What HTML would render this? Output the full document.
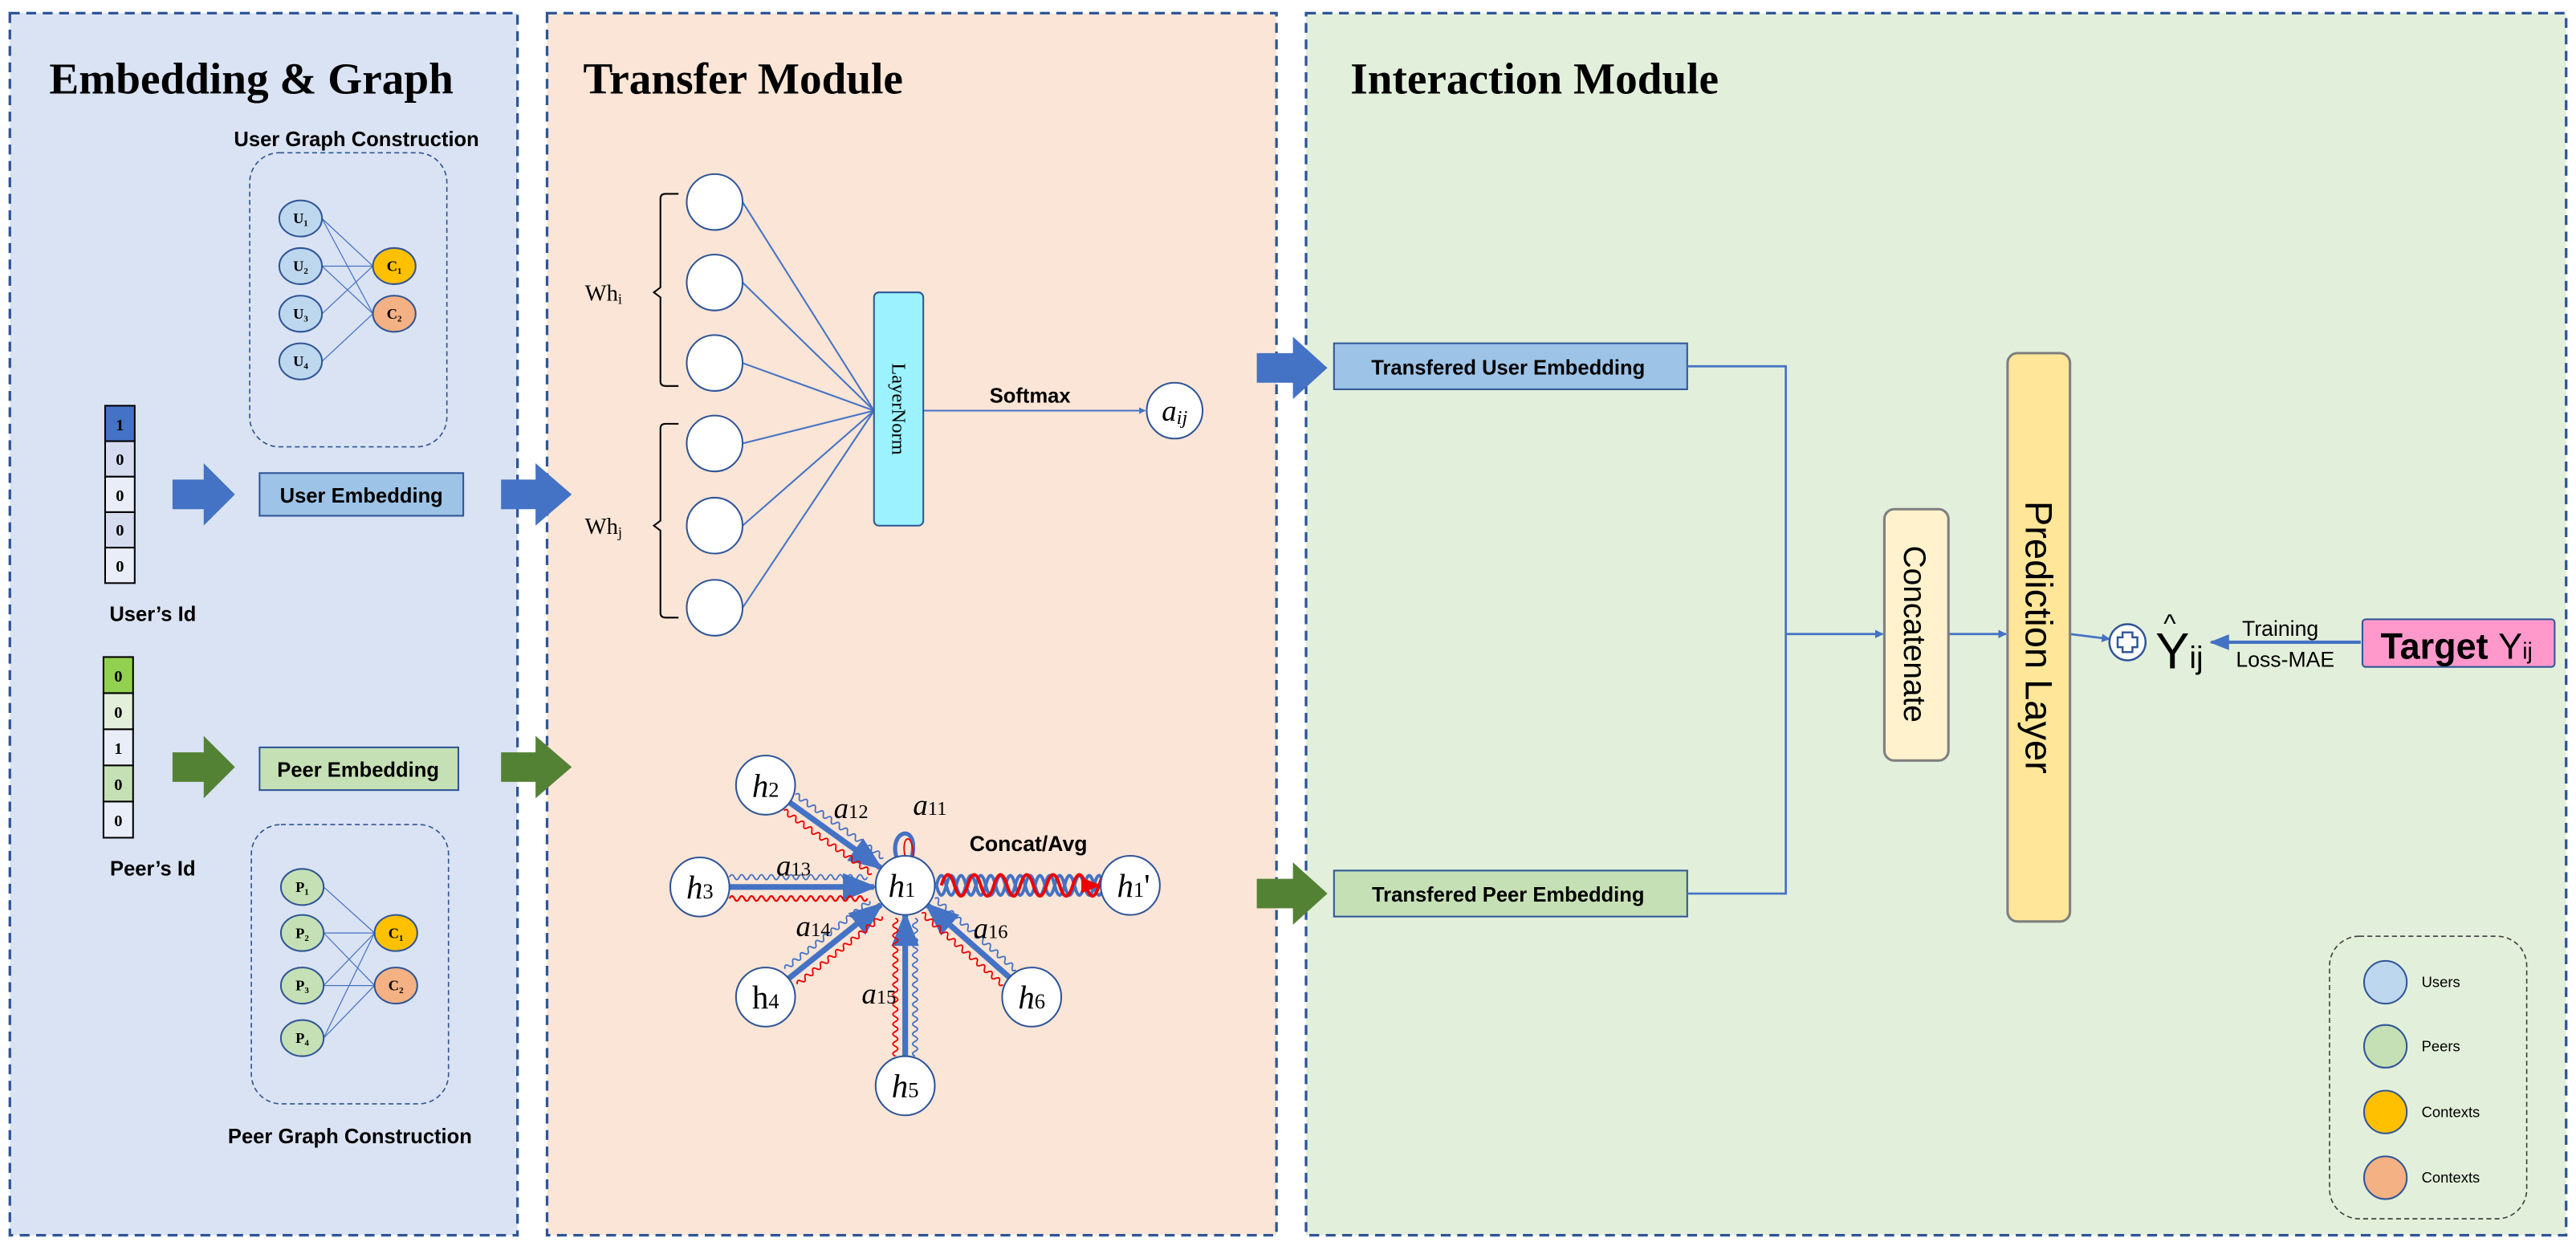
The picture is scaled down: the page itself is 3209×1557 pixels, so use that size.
<!DOCTYPE html>
<html><head><meta charset="utf-8"><style>html,body{margin:0;padding:0;background:#fff}svg{display:block}</style></head>
<body>
<svg width="3209" height="1557" viewBox="0 0 1568 761" preserveAspectRatio="none" xmlns="http://www.w3.org/2000/svg">
<defs>
<marker id="ab" viewBox="0 0 10 10" refX="9" refY="5" markerWidth="4" markerHeight="4" orient="auto"><path d="M0,0L10,5L0,10z" fill="#4472c4"/></marker>
<marker id="as" viewBox="0 0 10 10" refX="9" refY="5" markerWidth="6" markerHeight="6" orient="auto"><path d="M0,1L10,5L0,9z" fill="#4472c4"/></marker>
<marker id="ar" viewBox="0 0 10 10" refX="9" refY="5" markerWidth="6" markerHeight="6" orient="auto"><path d="M0,1L10,5L0,9z" fill="#e00"/></marker>
<path id="w66" d="M0,0 q1.5,-3 3,0 t3,0t3,0t3,0t3,0t3,0t3,0t3,0t3,0t3,0t3,0t3,0t3,0t3,0t3,0t3,0t3,0t3,0t3,0t3,0t3,0t3,0"/>
<path id="w84" d="M0,0 q1.5,-3 3,0 t3,0t3,0t3,0t3,0t3,0t3,0t3,0t3,0t3,0t3,0t3,0t3,0t3,0t3,0t3,0t3,0t3,0t3,0t3,0t3,0t3,0t3,0t3,0t3,0t3,0t3,0t3,0"/>
</defs>
<g font-family="Liberation Sans, sans-serif">
<!-- panels -->
<rect x="6" y="8" width="309" height="744" fill="#dae3f3" stroke="#2f5597" stroke-width="1.6" stroke-dasharray="6,4"/>
<rect x="333" y="8" width="444" height="744" fill="#fbe5d6" stroke="#2f5597" stroke-width="1.6" stroke-dasharray="6,4"/>
<rect x="795" y="8" width="767" height="744" fill="#e2efda" stroke="#2f5597" stroke-width="1.6" stroke-dasharray="6,4"/>
<g font-family="Liberation Serif, serif" font-weight="bold" font-size="27">
<text x="30" y="57">Embedding &amp; Graph</text>
<text x="355" y="57">Transfer Module</text>
<text x="822" y="57">Interaction Module</text>
</g>
<!-- panel 1 -->
<text x="217" y="89" font-size="12.5" font-weight="bold" text-anchor="middle">User Graph Construction</text>
<rect x="152" y="93" width="120" height="179" rx="18" fill="none" stroke="#2f5597" stroke-width="0.8" stroke-dasharray="3,2"/>
<g stroke="#4472c4" stroke-width="0.6">
<line x1="196" y1="133" x2="227" y2="162"/><line x1="196" y1="133" x2="227" y2="191"/>
<line x1="196" y1="162" x2="227" y2="162"/><line x1="196" y1="162" x2="227" y2="191"/>
<line x1="196" y1="191" x2="227" y2="162"/><line x1="196" y1="220" x2="227" y2="191"/>
</g>
<g stroke="#2f5597" stroke-width="1" font-family="Liberation Serif, serif" font-weight="bold" font-size="9" text-anchor="middle">
<ellipse cx="183" cy="133" rx="13" ry="11" fill="#bdd7ee"/><ellipse cx="183" cy="162" rx="13" ry="11" fill="#bdd7ee"/>
<ellipse cx="183" cy="191" rx="13" ry="11" fill="#bdd7ee"/><ellipse cx="183" cy="220" rx="13" ry="11" fill="#bdd7ee"/>
<ellipse cx="240" cy="162" rx="13" ry="11" fill="#ffc000"/><ellipse cx="240" cy="191" rx="13" ry="11" fill="#f4b183"/>
<g stroke="none" fill="#000"><text x="183" y="136">U₁</text><text x="183" y="165">U₂</text><text x="183" y="194">U₃</text><text x="183" y="223">U₄</text><text x="240" y="165">C₁</text><text x="240" y="194">C₂</text></g>
</g>
<g stroke="#000" stroke-width="1" font-family="Liberation Serif, serif" font-weight="bold" font-size="10" text-anchor="middle">
<rect x="64" y="247" width="18" height="21.6" fill="#4472c4"/><rect x="64" y="268.6" width="18" height="21.6" fill="#d6dcf0"/>
<rect x="64" y="290.2" width="18" height="21.6" fill="#e9edf7"/><rect x="64" y="311.8" width="18" height="21.6" fill="#d6dcf0"/>
<rect x="64" y="333.4" width="18" height="21.6" fill="#e9edf7"/>
<g stroke="none"><text x="73" y="262">1</text><text x="73" y="283">0</text><text x="73" y="305">0</text><text x="73" y="326">0</text><text x="73" y="348">0</text></g>
<rect x="63" y="400" width="18" height="22" fill="#92d050"/><rect x="63" y="422" width="18" height="22" fill="#e2efda"/>
<rect x="63" y="444" width="18" height="22" fill="#e9edf7"/><rect x="63" y="466" width="18" height="22" fill="#c5e0b4"/>
<rect x="63" y="488" width="18" height="22" fill="#e9edf7"/>
<g stroke="none"><text x="72" y="415">0</text><text x="72" y="437">0</text><text x="72" y="459">1</text><text x="72" y="481">0</text><text x="72" y="503">0</text></g>
</g>
<text x="93" y="378" font-size="12.5" font-weight="bold" text-anchor="middle">User’s Id</text>
<text x="93" y="533" font-size="12.5" font-weight="bold" text-anchor="middle">Peer’s Id</text>
<polygon points="105,292 124,292 124,282 143,301 124,320 124,310 105,310" fill="#4472c4"/>
<polygon points="105,458 124,458 124,448 143,467 124,486 124,476 105,476" fill="#548235"/>
<rect x="158" y="288" width="124" height="26" fill="#9dc3e6" stroke="#2f5597" stroke-width="1"/>
<text x="220" y="306" font-size="12.5" font-weight="bold" text-anchor="middle">User Embedding</text>
<rect x="158" y="455" width="121" height="26" fill="#c5e0b4" stroke="#2f5597" stroke-width="1"/>
<text x="218" y="473" font-size="12.5" font-weight="bold" text-anchor="middle">Peer Embedding</text>
<rect x="153" y="502" width="120" height="170" rx="18" fill="none" stroke="#2f5597" stroke-width="0.8" stroke-dasharray="3,2"/>
<g stroke="#4472c4" stroke-width="0.6">
<line x1="197" y1="540" x2="228" y2="568"/><line x1="197" y1="568" x2="228" y2="568"/><line x1="197" y1="568" x2="228" y2="600"/>
<line x1="197" y1="600" x2="228" y2="568"/><line x1="197" y1="600" x2="228" y2="600"/>
<line x1="197" y1="632" x2="228" y2="568"/><line x1="197" y1="632" x2="228" y2="600"/>
</g>
<g stroke="#2f5597" stroke-width="1" font-family="Liberation Serif, serif" font-weight="bold" font-size="9" text-anchor="middle">
<ellipse cx="184" cy="540" rx="13" ry="11" fill="#c5e0b4"/><ellipse cx="184" cy="568" rx="13" ry="11" fill="#c5e0b4"/>
<ellipse cx="184" cy="600" rx="13" ry="11" fill="#c5e0b4"/><ellipse cx="184" cy="632" rx="13" ry="11" fill="#c5e0b4"/>
<ellipse cx="241" cy="568" rx="13" ry="11" fill="#ffc000"/><ellipse cx="241" cy="600" rx="13" ry="11" fill="#f4b183"/>
<g stroke="none" fill="#000"><text x="184" y="543">P₁</text><text x="184" y="571">P₂</text><text x="184" y="603">P₃</text><text x="184" y="635">P₄</text><text x="241" y="571">C₁</text><text x="241" y="603">C₂</text></g>
</g>
<text x="213" y="696" font-size="12.5" font-weight="bold" text-anchor="middle">Peer Graph Construction</text>
<polygon points="305,292 326,292 326,282 348,301 326,320 326,310 305,310" fill="#4472c4"/>
<polygon points="305,458 326,458 326,448 348,467 326,486 326,476 305,476" fill="#548235"/>
<!-- panel 2 -->
<g fill="none" stroke="#000" stroke-width="1">
<path d="M413,118 H405 Q402,118 402,121 V175 L398,178 L402,181 V232 Q402,235 405,235 H413"/>
<path d="M413,258 H405 Q402,258 402,261 V317 L398,320 L402,323 V373 Q402,376 405,376 H413"/>
</g>
<text x="356" y="183" font-family="Liberation Serif, serif" font-size="14">Wh<tspan font-size="9" dy="2">i</tspan></text>
<text x="356" y="325" font-family="Liberation Serif, serif" font-size="14">Wh<tspan font-size="9" dy="2">j</tspan></text>
<g stroke="#4472c4" stroke-width="1" fill="none">
<line x1="452" y1="123" x2="532" y2="250"/><line x1="452" y1="172" x2="532" y2="250"/><line x1="452" y1="221" x2="532" y2="250"/>
<line x1="452" y1="270" x2="532" y2="250"/><line x1="452" y1="320" x2="532" y2="250"/><line x1="452" y1="370" x2="532" y2="250"/>
<line x1="562" y1="250" x2="697" y2="250" marker-end="url(#ab)"/>
</g>
<g fill="#fff" stroke="#2f5597" stroke-width="1">
<circle cx="435" cy="123" r="17"/><circle cx="435" cy="172" r="17"/><circle cx="435" cy="221" r="17"/>
<circle cx="435" cy="270" r="17"/><circle cx="435" cy="320" r="17"/><circle cx="435" cy="370" r="17"/>
<circle cx="715" cy="250" r="17"/>
</g>
<rect x="532" y="178" width="30" height="142" rx="3" fill="#9cf3ff" stroke="#2f5597" stroke-width="1"/>
<text transform="translate(543,249) rotate(90)" font-family="Liberation Serif, serif" font-size="12" text-anchor="middle">LayerNorm</text>
<text x="627" y="245" font-size="12.5" font-weight="bold" text-anchor="middle">Softmax</text>
<text x="715" y="256" font-family="Liberation Serif, serif" font-style="italic" font-size="18" text-anchor="middle">a<tspan font-size="12" dy="2">ij</tspan></text>
<!-- graph spokes -->
<g fill="none">
<g transform="translate(466,478) rotate(35.7)">
<line x1="18" y1="0" x2="86" y2="0" stroke="#4472c4" stroke-width="3.5" marker-end="url(#as)"/>
<use href="#w66" x="18" y="-6" stroke="#4472c4" stroke-width="0.9"/><use href="#w66" x="18" y="6" stroke="#e00" stroke-width="0.9"/>
</g>
<g transform="translate(426,540) rotate(0)">
<line x1="18" y1="0" x2="106" y2="0" stroke="#4472c4" stroke-width="3.5" marker-end="url(#as)"/>
<use href="#w84" x="18" y="-6" stroke="#4472c4" stroke-width="0.9"/><use href="#w84" x="18" y="7" stroke="#e00" stroke-width="1.1"/>
</g>
<g transform="translate(466,607) rotate(-38.7)">
<line x1="18" y1="0" x2="90" y2="0" stroke="#4472c4" stroke-width="3.5" marker-end="url(#as)"/>
<use href="#w66" x="20" y="-6" stroke="#4472c4" stroke-width="0.9"/><use href="#w66" x="20" y="6" stroke="#e00" stroke-width="0.9"/>
</g>
<g transform="translate(551,661) rotate(-90)">
<line x1="18" y1="0" x2="104" y2="0" stroke="#4472c4" stroke-width="3.5" marker-end="url(#as)"/>
<use href="#w84" x="18" y="-6" stroke="#e00" stroke-width="0.9"/><use href="#w84" x="18" y="6" stroke="#4472c4" stroke-width="0.9"/>
</g>
<g transform="translate(628,607) rotate(221.4)">
<line x1="18" y1="0" x2="85" y2="0" stroke="#4472c4" stroke-width="3.5" marker-end="url(#as)"/>
<use href="#w66" x="18" y="-6" stroke="#e00" stroke-width="0.9"/><use href="#w66" x="18" y="6" stroke="#4472c4" stroke-width="0.9"/>
</g>
<path d="M546,523 C540,505 560,500 555,522" stroke="#4472c4" stroke-width="2.5"/>
<path d="M551,522 C548,508 556,506 556,522" stroke="#e00" stroke-width="0.9"/>
<path d="M570,539 q3,-12 6,0 t6,0t6,0t6,0t6,0t6,0t6,0t6,0t6,0t6,0t6,0t6,0t6,0t6,0t6,0t6,0t6,0t6,0" stroke="#4472c4" stroke-width="2"/>
<path d="M570,539 q3,12 6,0 t6,0t6,0t6,0t6,0t6,0t6,0t6,0t6,0t6,0t6,0t6,0t6,0t6,0t6,0t6,0t6,0" stroke="#4472c4" stroke-width="2"/>
<path d="M573,539 q4,-13 8,0 t8,0t8,0t8,0t8,0t8,0t8,0t8,0t8,0t8,0t8,0t8,0t8,0" stroke="#e00" stroke-width="2"/>
<line x1="660" y1="539" x2="669" y2="539" stroke="#e00" stroke-width="2" marker-end="url(#ar)"/>
</g>
<g fill="#fff" stroke="#2f5597" stroke-width="1">
<circle cx="551" cy="539" r="18"/><circle cx="466" cy="478" r="18"/><circle cx="426" cy="540" r="18"/>
<circle cx="466" cy="607" r="18"/><circle cx="551" cy="661" r="18"/><circle cx="628" cy="607" r="18"/><circle cx="688" cy="539" r="18"/>
</g>
<g font-family="Liberation Serif, serif" font-size="20" text-anchor="middle">
<text x="549" y="546" font-style="italic">h<tspan font-style="normal" font-size="13">1</tspan></text>
<text x="466" y="485" font-style="italic">h<tspan font-style="normal" font-size="13">2</tspan></text>
<text x="426" y="547" font-style="italic">h<tspan font-style="normal" font-size="13">3</tspan></text>
<text x="466" y="614">h<tspan font-size="13">4</tspan></text>
<text x="551" y="668" font-style="italic">h<tspan font-style="normal" font-size="13">5</tspan></text>
<text x="628" y="614" font-style="italic">h<tspan font-style="normal" font-size="13">6</tspan></text>
<text x="690" y="546" font-style="italic">h<tspan font-style="normal" font-size="13">1</tspan><tspan font-style="normal">'</tspan></text>
<g font-size="18">
<text x="518" y="498" font-style="italic">a<tspan font-style="normal" font-size="12">12</tspan></text>
<text x="566" y="496" font-style="italic">a<tspan font-style="normal" font-size="12">11</tspan></text>
<text x="483" y="533" font-style="italic">a<tspan font-style="normal" font-size="12">13</tspan></text>
<text x="495" y="570" font-style="italic">a<tspan font-style="normal" font-size="12">14</tspan></text>
<text x="535" y="611" font-style="italic">a<tspan font-style="normal" font-size="12">15</tspan></text>
<text x="603" y="571" font-style="italic">a<tspan font-style="normal" font-size="12">16</tspan></text>
</g>
</g>
<text x="626" y="518" font-size="13" font-weight="bold" text-anchor="middle">Concat/Avg</text>
<!-- panel 3 -->
<polygon points="765,215 787,215 787,205 808,224 787,243 787,233 765,233" fill="#4472c4"/>
<polygon points="765,535 787,535 787,525 808,544 787,563 787,553 765,553" fill="#548235"/>
<rect x="812" y="209" width="215" height="28" fill="#9dc3e6" stroke="#2f5597" stroke-width="1"/>
<text x="918" y="228" font-size="12.5" font-weight="bold" text-anchor="middle">Transfered User Embedding</text>
<rect x="812" y="530" width="215" height="28" fill="#c5e0b4" stroke="#2f5597" stroke-width="1"/>
<text x="918" y="549" font-size="12.5" font-weight="bold" text-anchor="middle">Transfered Peer Embedding</text>
<g stroke="#4472c4" stroke-width="1.3" fill="none">
<polyline points="1027,223 1087,223 1087,544 1027,544"/>
<line x1="1087" y1="386" x2="1146" y2="386" marker-end="url(#ab)"/>
<line x1="1186" y1="386" x2="1221" y2="386" marker-end="url(#ab)"/>
<line x1="1260" y1="386" x2="1284" y2="389" marker-end="url(#ab)"/>
<line x1="1437" y1="391" x2="1346" y2="391" stroke-width="2" marker-end="url(#as)"/>
</g>
<rect x="1147" y="310" width="39" height="153" rx="6" fill="#fff2cc" stroke="#7f7f7f" stroke-width="1.5"/>
<text transform="translate(1159,386) rotate(90)" font-size="19" text-anchor="middle">Concatenate</text>
<rect x="1222" y="215" width="38" height="346" rx="6" fill="#ffe699" stroke="#7f7f7f" stroke-width="1.5"/>
<text transform="translate(1233,388) rotate(90)" font-size="23" text-anchor="middle">Prediction Layer</text>
<circle cx="1295" cy="391" r="11" fill="#fff" stroke="#2f5597" stroke-width="1.2"/>
<path d="M1292,385h6v3h3v6h-3v3h-6v-3h-3v-6h3z" fill="#fff" stroke="#2f5597" stroke-width="1.2"/>
<text x="1312" y="407" font-size="31">Y<tspan font-size="19">ij</tspan></text>
<text x="1317" y="385" font-size="16">^</text>
<text x="1388" y="387" font-size="13" text-anchor="middle">Training</text>
<text x="1391" y="406" font-size="13" text-anchor="middle">Loss-MAE</text>
<rect x="1438" y="377" width="117" height="29" rx="2" fill="#ff99cc" stroke="#2f5597" stroke-width="1"/>
<text x="1449" y="401" font-size="22" font-weight="bold">Target <tspan font-weight="normal">Y</tspan><tspan font-weight="normal" font-size="14">ij</tspan></text>
<rect x="1418" y="570" width="120" height="172" rx="18" fill="none" stroke="#404040" stroke-width="0.8" stroke-dasharray="3,2"/>
<g stroke="#2f5597" stroke-width="1">
<circle cx="1452" cy="598" r="13" fill="#bdd7ee"/><circle cx="1452" cy="637" r="13" fill="#c5e0b4"/>
<circle cx="1452" cy="677" r="13" fill="#ffc000"/><circle cx="1452" cy="717" r="13" fill="#f4b183"/>
</g>
<g font-size="9"><text x="1474" y="601">Users</text><text x="1474" y="640">Peers</text><text x="1474" y="680">Contexts</text><text x="1474" y="720">Contexts</text></g>
</g>
</svg>
</body></html>
